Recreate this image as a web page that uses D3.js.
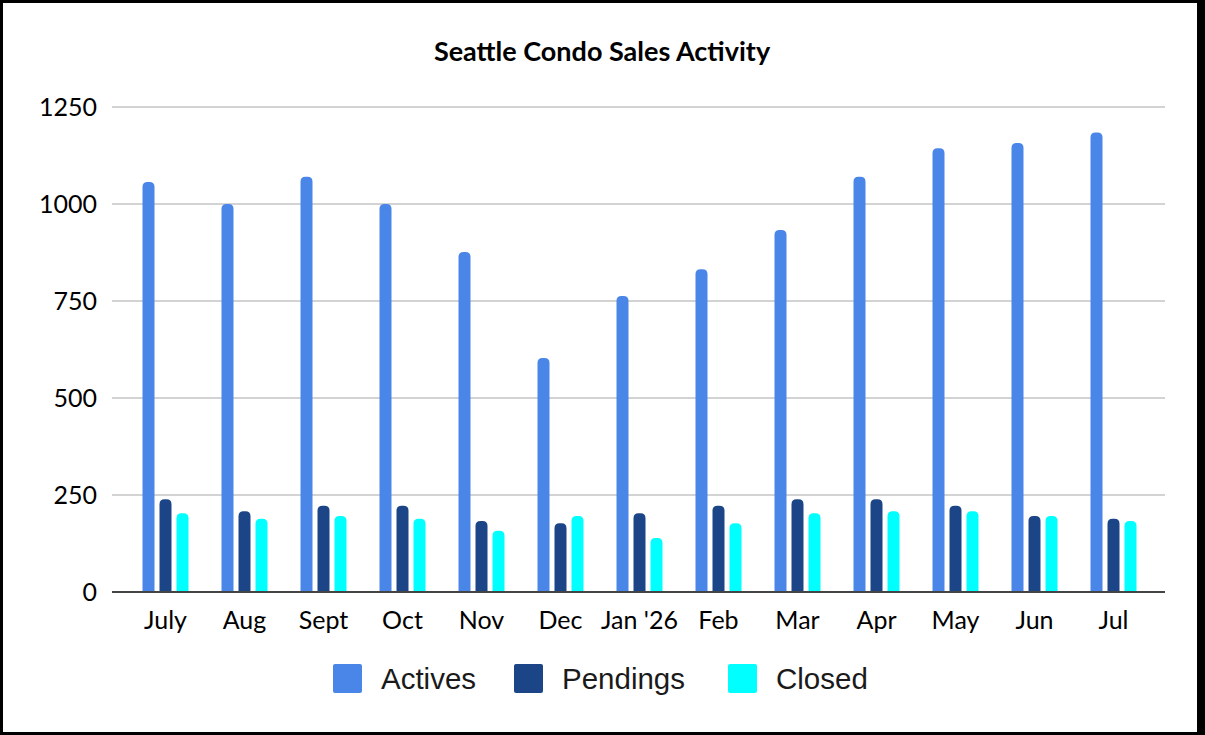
<!DOCTYPE html>
<html>
  <head>
    <title>Seattle Condo Sales Activity</title>
    <script src="https://cdn.jsdelivr.net/npm/d3@7"></script>
    <style type="text/css">
      html, body {
        margin: 0;
        padding: 0;
        background: #fff;
      }
      svg {
        display: block;
      }
      .title {
        font-family: Lato, "Open Sans", sans-serif;
        font-weight: bold;
        font-size: 27px;
        fill: #000;
      }
      .tick-label {
        font-family: Lato, "Open Sans", sans-serif;
        font-size: 25px;
        fill: #000;
      }
      .legend-label {
        font-family: "Liberation Sans", Arial, sans-serif;
        font-size: 29.5px;
        fill: #1a1a1a;
      }
    </style>
  </head>
  <body>
    <svg id="chart" width="1205" height="735"></svg>

    <script type="text/javascript">

    var months = ['July', 'Aug', 'Sept', 'Oct', 'Nov', 'Dec', "Jan '26", 'Feb', 'Mar', 'Apr', 'May', 'Jun', 'Jul'];

    var activeListings  = [1057, 1000, 1070, 1000, 876, 603, 763, 832, 933, 1070, 1144, 1157, 1184];
    var pendingSales    = [239, 208, 222, 222, 183, 177, 203, 222, 239, 239, 222, 196, 189];
    var closedSales     = [203, 189, 196, 189, 158, 196, 139, 177, 203, 208, 208, 196, 183];

    var seriesNames  = ['Actives', 'Pendings', 'Closed'];
    var seriesColors = ['#4a86e8', '#1c4587', '#00ffff'];
    var yTicks = [0, 250, 500, 750, 1000, 1250];

    var W = 1205, H = 735,
        plotLeft = 112, plotRight = 1165,
        plotTop = 107, plotBottom = 592;

    var svg = d3.select('#chart');

    svg.append('rect').attr('width', W).attr('height', H).attr('fill', '#fff');

    var x = d3.scaleBand()
              .domain(months)
              .range([126, 1153])
              .padding(0);

    var xs = d3.scaleBand()
               .domain(seriesNames)
               .range([0, 46])
               .paddingInner(5 / 17)
               .paddingOuter(0);

    var y = d3.scaleLinear()
              .domain([0, 1250])
              .range([plotBottom, plotTop]);

    // gridlines
    svg.append('g')
       .selectAll('line')
       .data(yTicks.filter(function(d) { return d > 0; }))
       .enter()
       .append('line')
       .attr('x1', plotLeft)
       .attr('x2', plotRight)
       .attr('y1', function(d) { return y(d); })
       .attr('y2', function(d) { return y(d); })
       .attr('stroke', '#d3d3d3')
       .attr('stroke-width', 2);

    // y tick labels
    svg.append('g')
       .selectAll('text')
       .data(yTicks)
       .enter()
       .append('text')
       .attr('class', 'tick-label')
       .attr('x', 97)
       .attr('y', function(d) { return y(d); })
       .attr('dy', '0.36em')
       .attr('text-anchor', 'end')
       .text(function(d) { return d; });

    // bars, rounded on top only
    function barPath(x0, w, yTop, yBase) {
      var r = Math.min(5, w / 2, (yBase - yTop));
      return 'M' + x0 + ',' + yBase +
             'V' + (yTop + r) +
             'Q' + x0 + ',' + yTop + ' ' + (x0 + r) + ',' + yTop +
             'H' + (x0 + w - r) +
             'Q' + (x0 + w) + ',' + yTop + ' ' + (x0 + w) + ',' + (yTop + r) +
             'V' + yBase + 'Z';
    }

    var rows = months.map(function(m, i) {
      return {
        month: m,
        values: [
          { key: 'Actives', value: activeListings[i] },
          { key: 'Pendings', value: pendingSales[i] },
          { key: 'Closed', value: closedSales[i] }
        ]
      };
    });

    var groups = svg.append('g')
                    .selectAll('g')
                    .data(rows)
                    .enter()
                    .append('g')
                    .attr('transform', function(d) {
                      return 'translate(' + (x(d.month) + x.bandwidth() / 2 - 23) + ',0)';
                    });

    groups.selectAll('path')
          .data(function(d) { return d.values; })
          .enter()
          .append('path')
          .attr('fill', function(d) { return seriesColors[seriesNames.indexOf(d.key)]; })
          .attr('d', function(d) {
            return barPath(xs(d.key), xs.bandwidth(), y(d.value), y(0));
          });

    // baseline
    svg.append('line')
       .attr('x1', plotLeft)
       .attr('x2', plotRight)
       .attr('y1', y(0))
       .attr('y2', y(0))
       .attr('stroke', '#444')
       .attr('stroke-width', 2);

    // x labels
    svg.append('g')
       .selectAll('text')
       .data(months)
       .enter()
       .append('text')
       .attr('class', 'tick-label')
       .attr('x', function(d) { return x(d) + x.bandwidth() / 2; })
       .attr('y', 629)
       .attr('text-anchor', 'middle')
       .text(function(d) { return d; });

    // title
    svg.append('text')
       .attr('class', 'title')
       .attr('x', 602)
       .attr('y', 61)
       .attr('text-anchor', 'middle')
       .text('Seattle Condo Sales Activity');

    // legend
    var legendX = [333, 514, 728];
    var legend = svg.append('g')
                    .selectAll('g')
                    .data(seriesNames)
                    .enter()
                    .append('g')
                    .attr('transform', function(d, i) { return 'translate(' + legendX[i] + ',664)'; });

    legend.append('rect')
          .attr('width', 29)
          .attr('height', 29)
          .attr('rx', 2)
          .attr('fill', function(d, i) { return seriesColors[i]; });

    legend.append('text')
          .attr('class', 'legend-label')
          .attr('x', 48)
          .attr('y', 25)
          .text(function(d) { return d; });

    // frame, heavier on the right edge
    svg.append('rect')
       .attr('x', 1.5).attr('y', 1.5)
       .attr('width', W - 3).attr('height', H - 3)
       .attr('fill', 'none')
       .attr('stroke', '#000')
       .attr('stroke-width', 3);
    svg.append('rect')
       .attr('x', W - 8).attr('y', 0)
       .attr('width', 8).attr('height', H)
       .attr('fill', '#000');

    </script>
  </body>
</html>
